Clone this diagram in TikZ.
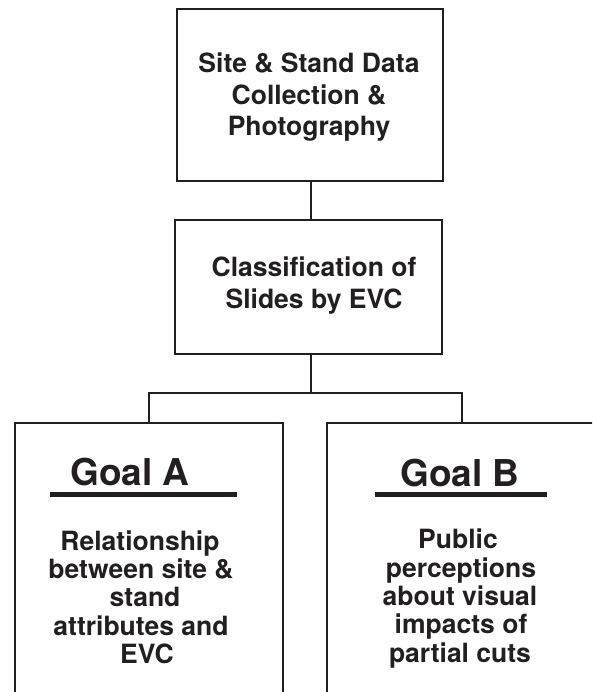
\documentclass[tikz,border=0pt]{standalone}
\usepackage{fontspec}
\setmainfont{TeX Gyre Heros}
\definecolor{ink}{RGB}{35,31,32}
\begin{document}
\begin{tikzpicture}[x=1pt,y=-1pt,
  frame/.style={draw=ink, line width=2.1pt, inner sep=0pt},
  linetxt/.style={font=\fontsize{26.5}{31.7}\selectfont\bfseries, text=ink, inner sep=0pt, anchor=base},
  headtxt/.style={font=\fontsize{37}{40}\selectfont\bfseries, text=ink, inner sep=0pt, anchor=base},
  link/.style={draw=ink, line width=2.1pt},
  rulebar/.style={draw=ink, line width=4.5pt}]
\useasboundingbox (0,0) rectangle (592,692);
\clip (0,0) rectangle (592,692);
% boxes
\node[frame, minimum width=266pt, minimum height=172pt] (top) at (310,95) {};
\node[frame, minimum width=267pt, minimum height=134pt] (mid) at (308.5,287) {};
\node[frame, minimum width=268pt, minimum height=290pt] (ga) at (149,568) {};
\node[frame, minimum width=270pt, minimum height=290pt] (gb) at (462,568) {};
% top box text
\node[linetxt] (t1) at (309,72.7) {Site \& Stand Data};
\node[linetxt] (t2) at (309,104.4) {Collection \&};
\node[linetxt] (t3) at (309,136) {Photography};
% middle box text
\node[linetxt] (m1) at (314,276.7) {Classification of};
\node[linetxt] (m2) at (314,308.4) {Slides by EVC};
% goal headings
\node[headtxt] (gah) at (130,485.5) {Goal A};
\node[headtxt] (gbh) at (460,486.5) {Goal B};
\draw[rulebar] (50,494.5) -- (237,494.5);
\draw[rulebar] (375,494.5) -- (547,494.5);
% goal A body
\node[linetxt] (a1) at (140,550) {Relationship};
\node[linetxt] (a2) at (141,578.3) {between site \&};
\node[linetxt] (a3) at (145,606.7) {stand};
\node[linetxt] (a4) at (141,635) {attributes and};
\node[linetxt] (a5) at (147,663.3) {EVC};
% goal B body
\node[linetxt] (b1) at (458,548.5) {Public};
\node[linetxt] (b2) at (461,577) {perceptions};
\node[linetxt] (b3) at (460,605.3) {about visual};
\node[linetxt] (b4) at (461,633.6) {impacts of};
\node[linetxt] (b5) at (460,662) {partial cuts};
% connectors
\coordinate (j) at (311,393);
\draw[link] (top.south -| j) -- (mid.north -| j);
\draw[link] (mid.south -| j) -- (j);
\draw[link] (ga.north) -- (ga.north |- j) -- (gb.north |- j) -- (gb.north);
\end{tikzpicture}
\end{document}
